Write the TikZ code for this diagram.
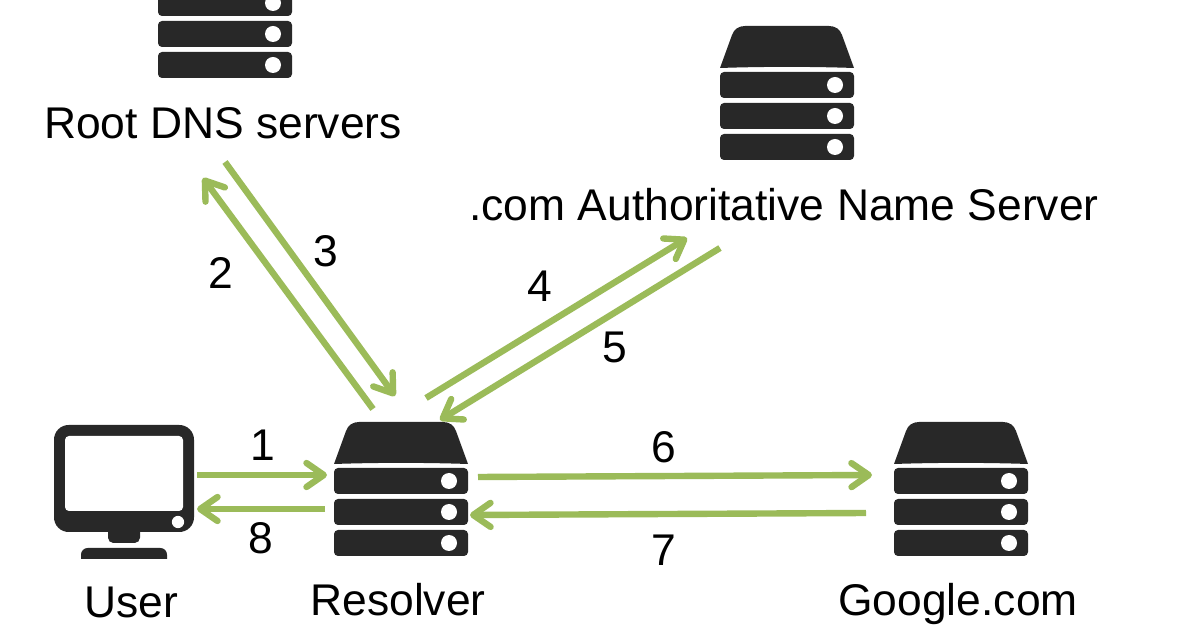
\documentclass[tikz,border=0pt]{standalone}
\usepackage{fontspec}
\setmainfont{Liberation Sans}
\usetikzlibrary{arrows.meta}
\definecolor{ink}{HTML}{282828}
\definecolor{flowgreen}{HTML}{9BBB59}
\tikzset{
  flow/.style={draw=flowgreen,line width=4.8pt,-{Straight Barb[length=13pt,width=18pt,round]}},
  lab/.style={anchor=base,inner sep=0pt,font=\fontsize{33.3}{40}\selectfont,text=black},
  num/.style={anchor=center,inner sep=0pt,font=\fontsize{33.3}{40}\selectfont,text=black},
  iconbox/.style={inner sep=0pt,minimum width=100.5pt,minimum height=100.5pt},
  bar/.style={fill=ink,rounded corners=3pt},
  led/.style={fill=white}
}
\newcommand{\serverat}[3]{%
  \begin{scope}[shift={(#2,#3)}]
    \node[iconbox] (#1) at (67,67) {};
    \fill[ink] (0,42) -- (12,9) .. controls (14,3) and (19,0) .. (25,0) -- (109,0)
      .. controls (115,0) and (120,3) .. (122,9) -- (134,42)
      .. controls (90,40.5) and (44,40.5) .. (0,42) -- cycle;
    \fill[bar] (0,46) rectangle (134,72);
    \fill[bar] (0,77) rectangle (134,103);
    \fill[bar] (0,108) rectangle (134,134);
    \fill[led] (115,59) circle (6pt);
    \fill[led] (115,90) circle (6pt);
    \fill[led] (115,121) circle (6pt);
  \end{scope}}
\begin{document}
\begin{tikzpicture}[x=0.75pt,y=-0.75pt]
\useasboundingbox (0,0) rectangle (1200,630);
\serverat{root}{158}{-56}
\serverat{com}{720}{26}
\serverat{resolver}{334}{422}
\serverat{google}{894}{422}
% monitor
\node[inner sep=0pt,minimum width=105pt,minimum height=100.5pt] (user) at (124,492) {};
\fill[ink,rounded corners=4pt] (108,525) rectangle (140,543);
\fill[ink,rounded corners=5pt] (81,570) -- (81,548) -- (167,548) -- (167,570) -- cycle;
\fill[white] (75,559) rectangle (175,575);
\fill[ink,rounded corners=11pt] (54,425) rectangle (194,532);
\fill[white,rounded corners=3pt] (65,436) rectangle (183,511);
\fill[white] (178,522) circle (4.6pt);
% labels
\node[lab] (tuser) at (131,618) {User};
\node[lab] (tres) at (398,615) {Resolver};
\node[lab] (tgoog) at (958,615) {Google.com};
\node[lab] (troot) at (223,139) {Root DNS servers};
\node[lab] (tcom) at (784,221) {.com Authoritative Name Server};
\node[num] (n1) at (263,445) {1};
\node[num] (n8) at (261,538) {8};
\node[num] (n2) at (221,273) {2};
\node[num] (n3) at (326,251) {3};
\node[num] (n4) at (540,286) {4};
\node[num] (n5) at (615,347) {5};
\node[num] (n6) at (664,447) {6};
\node[num] (n7) at (664,550) {7};
% connector ends
\coordinate (a1s) at (197,475); \coordinate (a1e) at (327,475);
\coordinate (a8s) at (325,509); \coordinate (a8e) at (197,509);
\coordinate (a2s) at (373,409); \coordinate (a2e) at (203,178);
\coordinate (a3s) at (225,162); \coordinate (a3e) at (395,396);
\coordinate (a4s) at (426,398); \coordinate (a4e) at (687,238);
\coordinate (a5s) at (720,248); \coordinate (a5e) at (440,420);
\coordinate (a6s) at (478,477); \coordinate (a6e) at (872,475);
\coordinate (a7s) at (866,513); \coordinate (a7e) at (470,515);
\foreach \n in {1,...,8}{\draw[flow] (a\n s) -- (a\n e);}
\end{tikzpicture}
\end{document}
